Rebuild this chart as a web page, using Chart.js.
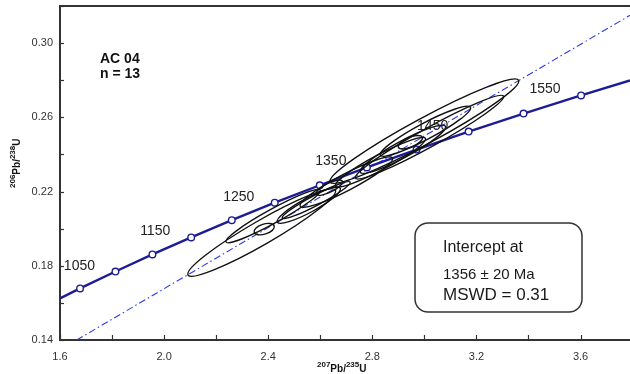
<!DOCTYPE html>
<html>
<head>
<meta charset="utf-8">
<script src="https://cdn.jsdelivr.net/npm/chart.js@4.4.1/dist/chart.umd.min.js"></script>
<style>
  html, body { margin: 0; padding: 0; background: #fff; }
  #wrap { width: 630px; height: 374px; }
</style>
</head>
<body>
<div id="wrap"><canvas id="concordia" width="630" height="374"></canvas></div>
<script>
// concordia curve, one point every 50 Ma (first and last point are where it leaves the frame)
const concordiaX = [1.600, 1.677, 1.813, 1.955, 2.104, 2.260, 2.425, 2.598, 2.779, 2.970, 3.170, 3.381, 3.602, 3.790];
const concordiaY = [0.1624, 0.1678, 0.1769, 0.1861, 0.1953, 0.2046, 0.2140, 0.2234, 0.2330, 0.2426, 0.2523, 0.2620, 0.2718, 0.2799];
const concordiaMarker = [false, true, true, true, true, true, true, true, true, true, true, true, true, false];
const ageLabels = ['', '', '1050', '', '1150', '', '1250', '', '1350', '', '1450', '', '1550', ''];

// discordia through the data
const discordiaX = [1.664, 3.790];
const discordiaY = [0.140, 0.315];

// 13 error ellipses: ends of the long axis + short/long axis ratio
const ellX1 = [2.092, 2.238, 2.346, 2.435, 2.454, 2.585, 2.523, 2.658, 2.754, 2.638, 2.735, 2.831, 2.900];
const ellY1 = [0.1750, 0.1928, 0.1981, 0.2035, 0.2057, 0.2186, 0.2121, 0.2229, 0.2304, 0.2251, 0.2272, 0.2396, 0.2439];
const ellX2 = [2.658, 2.600, 2.423, 2.677, 2.715, 2.685, 2.877, 3.004, 3.081, 3.362, 3.304, 3.177, 2.992];
const ellY2 = [0.2208, 0.2208, 0.2014, 0.2218, 0.2251, 0.2256, 0.2380, 0.2487, 0.2552, 0.2800, 0.2714, 0.2654, 0.2493];
const ellRatio = [0.14, 0.13, 0.48, 0.2, 0.13, 0.31, 0.16, 0.15, 0.17, 0.12, 0.11, 0.16, 0.38];

// axis labels
const xTickLabels = [1.6, 2.0, 2.4, 2.8, 3.2, 3.6];
const yTickLabels = [0.14, 0.18, 0.22, 0.26, 0.30];

const sample = 'AC 04';
const nPoints = 'n = 13';
const interceptLines = ['Intercept at', '1356 \u00b1 20 Ma', 'MSWD = 0.31'];

const FONT = '"Liberation Sans", Arial, sans-serif';
const BLUE = '#1c1c96';

const concordiaData = concordiaX.map((x, i) => ({ x: x, y: concordiaY[i] }));
const discordiaData = discordiaX.map((x, i) => ({ x: x, y: discordiaY[i] }));

const extras = {
  id: 'extras',
  afterDatasetsDraw(chart) {
    const ctx = chart.ctx;
    const xs = chart.scales.x, ys = chart.scales.y;
    const area = chart.chartArea;

    // ellipses
    ctx.save();
    ctx.beginPath();
    ctx.rect(area.left, area.top, area.right - area.left, area.bottom - area.top);
    ctx.clip();
    ctx.strokeStyle = '#111';
    ctx.lineWidth = 1.4;
    for (let i = 0; i < ellX1.length; i++) {
      const px1 = xs.getPixelForValue(ellX1[i]), py1 = ys.getPixelForValue(ellY1[i]);
      const px2 = xs.getPixelForValue(ellX2[i]), py2 = ys.getPixelForValue(ellY2[i]);
      const a = Math.hypot(px2 - px1, py2 - py1) / 2;
      ctx.beginPath();
      ctx.ellipse((px1 + px2) / 2, (py1 + py2) / 2, a, a * ellRatio[i], Math.atan2(py2 - py1, px2 - px1), 0, Math.PI * 2);
      ctx.stroke();
    }
    ctx.restore();

    // age labels next to concordia markers
    ctx.save();
    ctx.fillStyle = '#222';
    ctx.font = '14px ' + FONT;
    ctx.textAlign = 'center';
    ctx.textBaseline = 'alphabetic';
    ageLabels.forEach((t, i) => {
      if (!t) return;
      const px = xs.getPixelForValue(concordiaX[i]);
      const py = ys.getPixelForValue(concordiaY[i]);
      ctx.fillText(t, px - 36, py - 2);
    });
    ctx.restore();
  },
  afterDraw(chart) {
    const ctx = chart.ctx;
    const xs = chart.scales.x, ys = chart.scales.y;
    const area = chart.chartArea;
    ctx.save();

    // top frame line
    ctx.strokeStyle = '#333';
    ctx.lineWidth = 2;
    ctx.beginPath();
    ctx.moveTo(area.left - 1, area.top);
    ctx.lineTo(area.right, area.top);
    ctx.stroke();

    // inward tick marks
    ctx.lineWidth = 1.2;
    xs.ticks.forEach(t => {
      const px = Math.round(xs.getPixelForValue(t.value)) + 0.5;
      ctx.beginPath();
      ctx.moveTo(px, area.bottom);
      ctx.lineTo(px, area.bottom - 5);
      ctx.stroke();
    });
    ys.ticks.forEach(t => {
      const py = Math.round(ys.getPixelForValue(t.value)) + 0.5;
      ctx.beginPath();
      ctx.moveTo(area.left, py);
      ctx.lineTo(area.left + 4, py);
      ctx.stroke();
    });

    // sample name
    ctx.fillStyle = '#111';
    ctx.font = 'bold 14px ' + FONT;
    ctx.textAlign = 'left';
    ctx.fillText(sample, area.left + 40, 63);
    ctx.fillText(nPoints, area.left + 40, 78);

    // intercept box
    const bx = 415, by = 223, bw = 167, bh = 89;
    ctx.strokeStyle = '#333';
    ctx.lineWidth = 1.5;
    ctx.beginPath();
    ctx.roundRect(bx, by, bw, bh, 13);
    ctx.stroke();
    ctx.fillStyle = '#1a1a1a';
    ctx.font = '16px ' + FONT;
    ctx.fillText(interceptLines[0], bx + 28, by + 29);
    ctx.font = '15px ' + FONT;
    ctx.fillText(interceptLines[1], bx + 28, by + 56);
    ctx.font = '17px ' + FONT;
    ctx.fillText(interceptLines[2], bx + 28, by + 77);

    // axis titles with superscript masses
    const drawTitle = (parts) => {
      let cx = 0;
      parts.forEach(p => {
        ctx.font = 'bold ' + (p.sup ? 8 : 10) + 'px ' + FONT;
        ctx.fillText(p.t, cx, p.sup ? -5 : 0);
        cx += ctx.measureText(p.t).width;
      });
    };
    ctx.fillStyle = '#111';
    ctx.save();
    ctx.translate(317, 372);
    drawTitle([{ t: '207', sup: true }, { t: 'Pb/', sup: false }, { t: '235', sup: true }, { t: 'U', sup: false }]);
    ctx.restore();
    ctx.save();
    ctx.translate(20, 188);
    ctx.rotate(-Math.PI / 2);
    drawTitle([{ t: '206', sup: true }, { t: 'Pb/', sup: false }, { t: '238', sup: true }, { t: 'U', sup: false }]);
    ctx.restore();

    ctx.restore();
  }
};

new Chart(document.getElementById('concordia'), {
  type: 'scatter',
  data: {
    datasets: [
      {
        data: concordiaData,
        showLine: true,
        tension: 0,
        borderColor: BLUE,
        borderWidth: 2.4,
        pointRadius: concordiaMarker.map(m => m ? 3.3 : 0),
        pointBackgroundColor: '#fff',
        pointBorderColor: BLUE,
        pointBorderWidth: 1.4,
        order: 0
      },
      {
        data: discordiaData,
        showLine: true,
        borderColor: '#2a3be6',
        borderWidth: 1.1,
        borderDash: [7, 3, 1.5, 3],
        pointRadius: 0,
        order: 1
      }
    ]
  },
  options: {
    responsive: false,
    animation: false,
    layout: { padding: { top: 6, left: 0, right: 0, bottom: 0 } },
    plugins: { legend: { display: false }, tooltip: { enabled: false } },
    scales: {
      x: {
        type: 'linear',
        min: 1.6,
        max: 3.79,
        afterFit: s => { s.height = 34; s.paddingLeft = 0; s.paddingRight = 0; },
        grid: { display: false, drawTicks: false },
        border: { display: true, color: '#333', width: 2 },
        ticks: {
          stepSize: 0.2,
          includeBounds: false,
          autoSkip: false,
          maxRotation: 0,
          padding: 10,
          color: '#333',
          font: { family: FONT, size: 11 },
          callback: v => xTickLabels.some(l => Math.abs(l - v) < 1e-6) ? v.toFixed(1) : ''
        }
      },
      y: {
        type: 'linear',
        min: 0.14,
        max: 0.32,
        afterFit: s => { s.width = 60; s.paddingTop = 0; s.paddingBottom = 0; },
        grid: { display: false, drawTicks: false },
        border: { display: true, color: '#333', width: 2 },
        ticks: {
          stepSize: 0.02,
          includeBounds: false,
          autoSkip: false,
          padding: 7,
          color: '#333',
          font: { family: FONT, size: 11 },
          callback: v => yTickLabels.some(l => Math.abs(l - v) < 1e-6) ? v.toFixed(2) : ''
        }
      }
    }
  },
  plugins: [extras]
});
</script>
</body>
</html>
